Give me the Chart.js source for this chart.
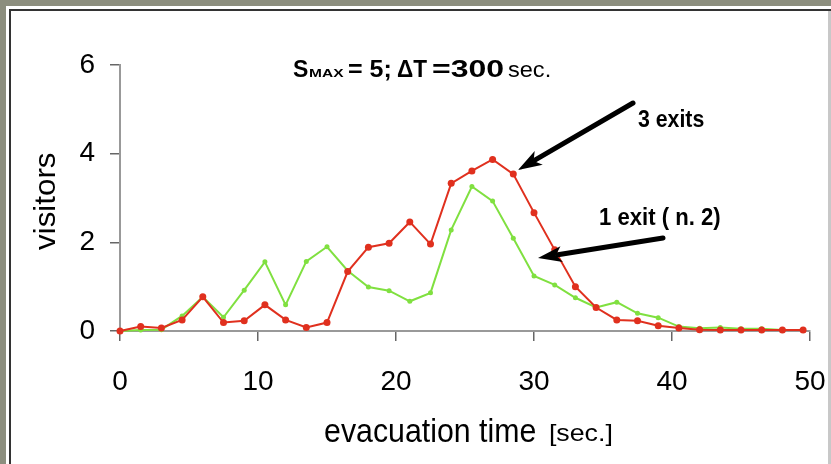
<!DOCTYPE html>
<html>
<head>
<meta charset="utf-8">
<script src="https://cdn.jsdelivr.net/npm/chart.js@4.4.1/dist/chart.umd.min.js"></script>
<style>
html,body{margin:0;padding:0;background:#8c8e7e;}
#wrap{width:831px;height:464px;position:relative;}
</style>
</head>
<body>
<div id="wrap"><canvas id="c" width="831" height="464"></canvas></div>
<script>
// evacuation time [sec.]
const times = [0, 1.5, 3, 4.5, 6, 7.5, 9, 10.5, 12, 13.5, 15, 16.5, 18, 19.5, 21, 22.5, 24, 25.5, 27, 28.5, 30, 31.5, 33, 34.5, 36, 37.5, 39, 40.5, 42, 43.5, 45, 46.5, 48, 49.5];
// visitors, 3 exits (red)
const threeExits = [0.0, 0.1, 0.07, 0.25, 0.77, 0.19, 0.23, 0.59, 0.25, 0.08, 0.19, 1.34, 1.89, 1.98, 2.46, 1.96, 3.33, 3.61, 3.87, 3.54, 2.67, 1.83, 1.0, 0.53, 0.25, 0.23, 0.12, 0.07, 0.03, 0.02, 0.02, 0.02, 0.02, 0.02];
// visitors, 1 exit (n. 2) (green)
const oneExit = [0.0, 0.02, 0.03, 0.34, 0.77, 0.31, 0.92, 1.56, 0.59, 1.57, 1.90, 1.36, 0.99, 0.91, 0.67, 0.86, 2.28, 3.26, 2.93, 2.09, 1.24, 1.04, 0.75, 0.53, 0.65, 0.40, 0.30, 0.10, 0.06, 0.08, 0.05, 0.05, 0.02, 0.02];
const xTicks = [0, 10, 20, 30, 40, 50];
const yTicks = [0, 2, 4, 6];

const RED = '#e0301e';
const GREEN = '#80e040';
const SANS = '"Liberation Sans", Arial, sans-serif';

function pts(vals){ return times.map((t,i)=>({x:t,y:vals[i]})); }

// draw text so that its glyphs span [left,right] horizontally at given baseline
function fitX(ctx, text, font, left, right, baseline){
  ctx.save();
  ctx.font = font;
  ctx.textBaseline = 'alphabetic';
  ctx.textAlign = 'left';
  const m = ctx.measureText(text);
  const gw = m.actualBoundingBoxLeft + m.actualBoundingBoxRight;
  const s = (right-left)/gw;
  ctx.translate(left + m.actualBoundingBoxLeft*s, baseline);
  ctx.scale(s,1);
  ctx.fillStyle = '#000';
  ctx.fillText(text, 0, 0);
  ctx.restore();
}

function arrow(ctx, x1, y1, x2, y2){
  const ang = Math.atan2(y2-y1, x2-x1);
  const headLen = 24, headW = 8;
  const bx = x2 - Math.cos(ang)*headLen, by = y2 - Math.sin(ang)*headLen;
  ctx.save();
  ctx.strokeStyle = '#000';
  ctx.fillStyle = '#000';
  ctx.lineWidth = 5;
  ctx.lineCap = 'round';
  ctx.beginPath();
  ctx.moveTo(x1,y1);
  ctx.lineTo(bx + Math.cos(ang)*4, by + Math.sin(ang)*4);
  ctx.stroke();
  const nx = -Math.sin(ang), ny = Math.cos(ang);
  ctx.beginPath();
  ctx.moveTo(x2,y2);
  ctx.lineTo(bx + nx*headW, by + ny*headW);
  ctx.lineTo(bx + Math.cos(ang)*6, by + Math.sin(ang)*6);
  ctx.lineTo(bx - nx*headW, by - ny*headW);
  ctx.closePath();
  ctx.fill();
  ctx.restore();
}

const framePlugin = {
  id:'frame',
  beforeDraw(chart){
    const ctx = chart.ctx;
    ctx.save();
    ctx.fillStyle = '#8c8e7e';
    ctx.fillRect(0,0,831,464);
    ctx.fillStyle = '#ffffff';
    ctx.fillRect(6,6,825,458);
    ctx.fillStyle = '#333333';
    ctx.fillRect(9,9,822,2);
    ctx.fillRect(9,9,2,455);
    ctx.fillStyle = '#c8c8c8';
    ctx.fillRect(828,11,3,453);
    ctx.restore();
  },
  afterDraw(chart){
    const ctx = chart.ctx;
    // title
    fitX(ctx, 'S', 'bold 23px '+SANS, 293, 308, 77);
    fitX(ctx, 'MAX', 'bold 10px '+SANS, 309, 344, 77);
    fitX(ctx, '= 5;', 'bold 23px '+SANS, 348, 390, 77);
    fitX(ctx, '\u0394T', 'bold 23px '+SANS, 397, 427, 77);
    fitX(ctx, '=300', 'bold 23px '+SANS, 432, 503, 77);
    fitX(ctx, 'sec.', '22px '+SANS, 508, 550, 77);
    // annotations
    fitX(ctx, '3 exits', 'bold 24px '+SANS, 638, 704, 127);
    fitX(ctx, '1 exit ( n. 2)', 'bold 23px '+SANS, 600, 720, 225);
    arrow(ctx, 633, 103, 518, 170);
    arrow(ctx, 663, 238, 538, 258);
    // x axis title
    fitX(ctx, 'evacuation time', '33px '+SANS, 325, 535, 442);
    fitX(ctx, '[sec.]', '24px '+SANS, 550, 611, 441);
    // y axis title
    ctx.save();
    ctx.translate(55, 250);
    ctx.rotate(-Math.PI/2);
    fitX(ctx, 'visitors', '29px '+SANS, 0, 97, 0);
    ctx.restore();
  }
};

new Chart(document.getElementById('c'), {
  type:'line',
  data:{
    datasets:[
      {label:'3 exits', data:pts(threeExits), borderColor:RED, backgroundColor:RED, borderWidth:2, pointRadius:3.5, pointBorderWidth:0, pointBackgroundColor:RED, tension:0, clip:false},
      {label:'1 exit ( n. 2)', data:pts(oneExit), borderColor:GREEN, backgroundColor:GREEN, borderWidth:2, pointRadius:2.5, pointBorderWidth:0, pointBackgroundColor:GREEN, tension:0, clip:false}
    ]
  },
  options:{
    responsive:false,
    animation:false,
    events:[],
    layout:{padding:{top:65,right:21,left:0,bottom:0}},
    plugins:{legend:{display:false}, title:{display:false}, tooltip:{enabled:false}},
    scales:{
      x:{
        type:'linear', min:0, max:50,
        afterBuildTicks(s){ s.ticks = xTicks.map(v=>({value:v})); },
        ticks:{font:{family:SANS, size:28}, color:'#000', padding:24, maxRotation:0, autoSkip:false},
        grid:{drawOnChartArea:false, tickLength:10, color:'#666', lineWidth:1.5},
        border:{color:'#999', width:2},
        afterFit(s){ s.height = 133; s.paddingLeft = 0; s.paddingRight = 0; }
      },
      y:{
        min:0, max:6,
        afterBuildTicks(s){ s.ticks = yTicks.map(v=>({value:v})); },
        ticks:{font:{family:SANS, size:28}, color:'#000', padding:15, autoSkip:false},
        grid:{drawOnChartArea:false, tickLength:10, color:'#666', lineWidth:1.5},
        border:{color:'#999', width:2},
        afterFit(s){ s.width = 120; s.paddingTop = 0; s.paddingBottom = 0; }
      }
    }
  },
  plugins:[framePlugin]
});
</script>
</body>
</html>
